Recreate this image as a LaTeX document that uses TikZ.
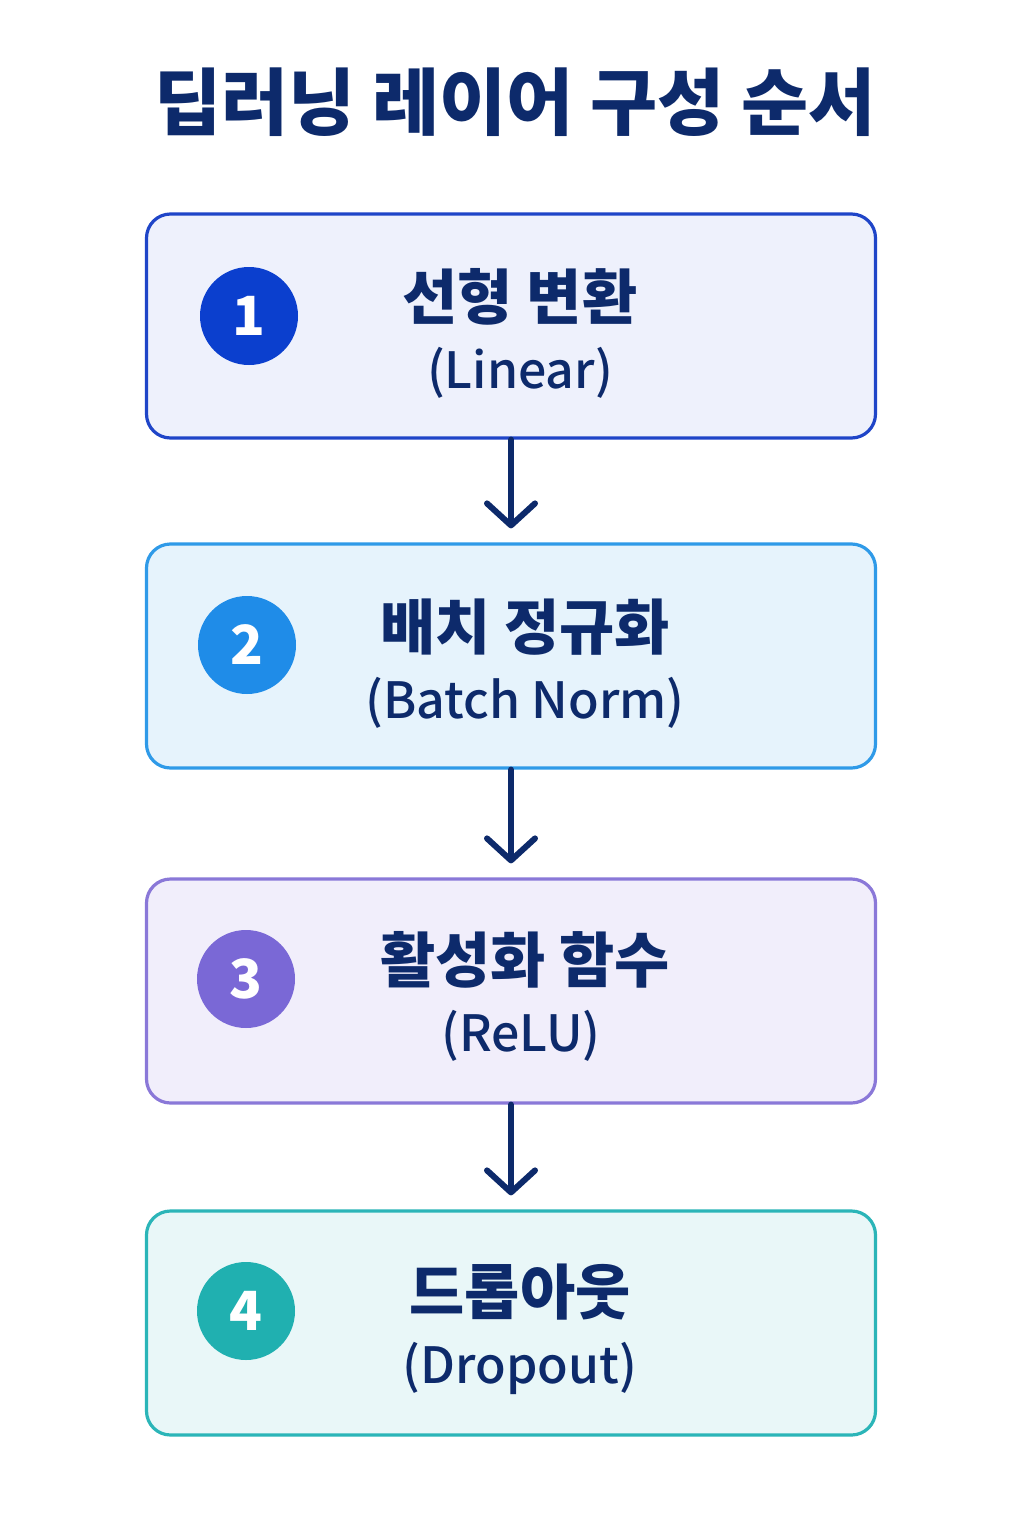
\documentclass[tikz,border=0pt]{standalone}
\usepackage{fontspec}
\usetikzlibrary{arrows.meta}
\setmainfont{Noto Sans CJK KR}
\newfontfamily\krmed{Noto Sans CJK KR Medium}
\begin{document}
\begin{tikzpicture}[x=0.5pt,y=-0.5pt,
  box/.style={draw,line width=1.6pt,rounded corners=12pt,minimum width=364.5pt,minimum height=112pt},
  num/.style={circle,minimum size=49pt,inner sep=0pt,text=white,font=\bfseries\fontsize{27}{27}\selectfont},
  kt/.style={text=navy,font=\bfseries\fontsize{30}{34}\selectfont},
  et/.style={text=navy,font=\krmed\fontsize{25}{28}\selectfont},
  arr/.style={draw=navy,line width=3pt,line cap=round,-{Straight Barb[length=11pt,width=24pt,line width=3pt,round]}}]
\definecolor{navy}{HTML}{0D2A6B}
\definecolor{b1}{HTML}{1F45C8}\definecolor{f1}{HTML}{EEF1FC}\definecolor{c1}{HTML}{0B3FCE}
\definecolor{b2}{HTML}{2F9AE8}\definecolor{f2}{HTML}{E6F3FC}\definecolor{c2}{HTML}{1F8CE8}
\definecolor{b3}{HTML}{8A78D8}\definecolor{f3}{HTML}{F1EEFB}\definecolor{c3}{HTML}{7A68D6}
\definecolor{b4}{HTML}{2BB5B8}\definecolor{f4}{HTML}{E9F7F8}\definecolor{c4}{HTML}{20B0B0}
\useasboundingbox[fill=white] (0,0) rectangle (1024,1536);
\node[text=navy,font=\bfseries\fontsize{36.5}{40}\selectfont] (title) at (515,102) {딥러닝 레이어 구성 순서};
\node[box,draw=b1,fill=f1] (n1) at (511,326) {};
\node[box,draw=b2,fill=f2] (n2) at (511,656) {};
\node[box,draw=b3,fill=f3] (n3) at (511,991) {};
\node[box,draw=b4,fill=f4] (n4) at (511,1323) {};
\node[num,fill=c1] (c1) at (249,316) {1};
\node[num,fill=c2] (c2) at (247,645) {2};
\node[num,fill=c3] (c3) at (246,979) {3};
\node[num,fill=c4] (c4) at (246,1311) {4};
\node[kt] (k1) at (520,297) {선형 변환};
\node[et] (e1) at (520,373) {(Linear)};
\node[kt] (k2) at (525,627) {배치 정규화};
\node[et] (e2) at (525,703) {(Batch Norm)};
\node[kt] (k3) at (525,960) {활성화 함수};
\node[et] (e3) at (521,1036) {(ReLU)};
\node[kt] (k4) at (520,1292) {드롭아웃};
\node[et] (e4) at (520,1368) {(Dropout)};
\draw[arr] (n1.south) -- ([yshift=7pt]n2.north);
\draw[arr] (n2.south) -- ([yshift=7pt]n3.north);
\draw[arr] (n3.south) -- ([yshift=7pt]n4.north);
\end{tikzpicture}
\end{document}
